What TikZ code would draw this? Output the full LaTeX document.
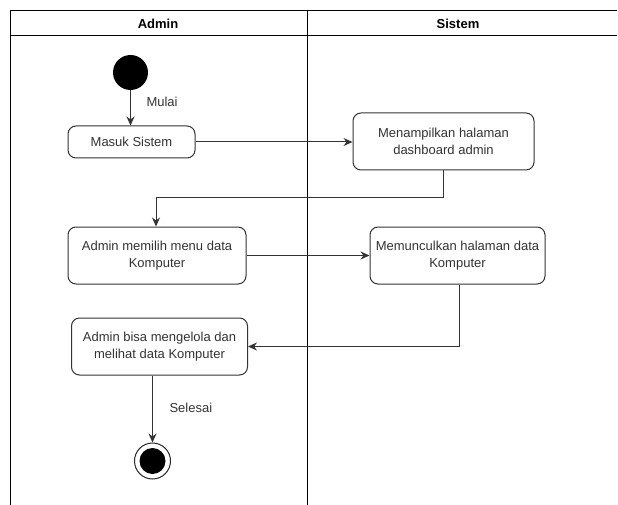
\documentclass[tikz,border=0pt]{standalone}
\usepackage{fontspec}
\setmainfont{Liberation Sans}
\usetikzlibrary{arrows.meta, positioning, calc}
\tikzset{
  action/.style={rectangle, rounded corners=8pt, draw=black!80, line width=1pt, fill=white, align=center, inner sep=0pt, text=black!80, font=\fontsize{13}{16.5}\selectfont},
  initial/.style={circle, fill=black, minimum size=35pt, inner sep=0pt},
  final/.style={circle, draw=black!85, line width=1pt, fill=white, minimum size=36pt, inner sep=0pt, path picture={\fill[black] (path picture bounding box.center) circle (13pt);}},
  lanehead/.style={font=\bfseries\fontsize{13}{15}\selectfont},
  guard/.style={font=\fontsize{13}{15}\selectfont, text=black!80},
  arrowline/.style={-{Stealth[length=9pt,width=8pt]}, line width=1pt, draw=black!80},
  laneline/.style={line width=1pt, black},
}
\begin{document}
\begin{tikzpicture}[x=1pt, y=-1pt]
\useasboundingbox (0,0) rectangle (618,505);
% swimlanes
\draw[laneline] (10,505) -- (10,11) -- (617,11);
\draw[laneline] (10,36) -- (617,36);
\draw[laneline] (307,11) -- (307,505);
\node[lanehead] (admin) at (158,23.5) {Admin};
\node[lanehead] (sistem) at (458,23.5) {Sistem};

\node[initial] (start) at (130.5,72.5) {};
\node[action, minimum width=127pt, minimum height=32pt] (masuk) at (131.5,142) {Masuk Sistem};
\node[action, minimum width=181pt, minimum height=57pt] (tampil) at (443.5,141.5) {Menampilkan halaman\\dashboard admin};
\node[action, minimum width=178pt, minimum height=57pt] (pilih) at (157,255.5) {Admin memilih menu data\\Komputer};
\node[action, minimum width=175pt, minimum height=57pt] (muncul) at (457.5,255.5) {Memunculkan halaman data\\Komputer};
\node[action, minimum width=176pt, minimum height=57pt] (kelola) at (159.5,346.5) {Admin bisa mengelola dan\\melihat data Komputer};
\node[final] (end) at (152.5,461) {};

\node[guard, anchor=west] (mulai) at (143,102) {Mulai};
\node[guard, anchor=west] (selesai) at (166,408) {Selesai};

\draw[arrowline] (start.south) -- (start.south |- masuk.north);
\draw[arrowline] (masuk.east) -- (masuk.east -| tampil.west);
\draw[arrowline] (tampil.south) -- ++(0,27) -| ($(pilih.north)+(-1,0)$);
\draw[arrowline] (pilih) -- (muncul);
\draw[arrowline] ($(muncul.south)+(1.5,0)$) |- (kelola.east);
\draw[arrowline] (kelola.south -| end) -- (end);
\end{tikzpicture}
\end{document}
